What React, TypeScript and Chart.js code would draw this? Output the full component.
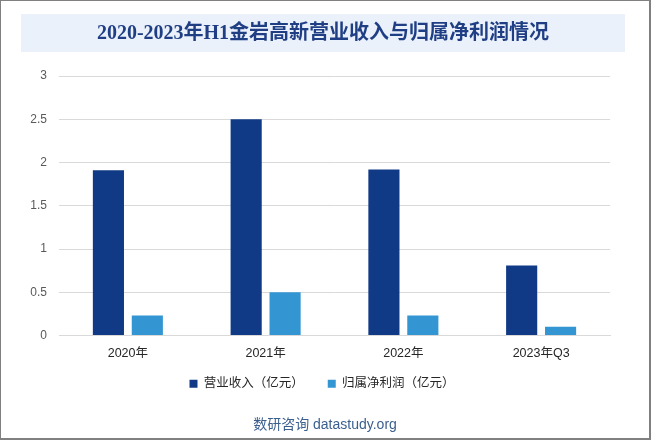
import React, { useEffect, useRef } from "react";
import { Chart, registerables } from "chart.js";

Chart.register(...registerables);

const categories = ["2020年", "2021年", "2022年", "2023年Q3"];
const revenue = [1.91, 2.5, 1.92, 0.81];
const netProfit = [0.23, 0.5, 0.23, 0.1];
const seriesNames = ["营业收入（亿元）", "归属净利润（亿元）"];
const yTicks = [0, 0.5, 1, 1.5, 2, 2.5, 3];
const titleText = "2020-2023年H1金岩高新营业收入与归属净利润情况";
const footerText = "数研咨询 datastudy.org";

const decorPlugin = {
  id: "decor",
  afterLayout(chart: any) {
    const lg = chart.legend;
    if (lg) {
      lg.top -= 19;
      lg.bottom -= 19;
      lg.left += 17;
      lg.right += 17;
    }
  },
  beforeDraw(chart: any) {
    const ctx = chart.ctx;
    ctx.save();
    ctx.fillStyle = "#ffffff";
    ctx.fillRect(0, 0, chart.width, chart.height);
    ctx.fillStyle = "#EAF1FB";
    ctx.fillRect(21, 14, 604, 38);
    ctx.fillStyle = "#1F3E84";
    ctx.font = 'bold 20px "Liberation Serif", "Noto Sans CJK SC", serif';
    ctx.textAlign = "center";
    ctx.textBaseline = "middle";
    ctx.fillText(titleText, 323, 34);
    ctx.fillStyle = "#3A5F8F";
    ctx.font = '14px "Liberation Sans", "Noto Sans CJK SC", sans-serif';
    ctx.fillText(footerText, 325, 425);
    ctx.restore();
  },
  afterDraw(chart: any) {
    const ctx = chart.ctx;
    ctx.save();
    ctx.strokeStyle = "#808080";
    ctx.lineWidth = 1;
    ctx.strokeRect(0.5, 0.5, chart.width - 1, chart.height - 1);
    ctx.lineWidth = 2;
    ctx.beginPath();
    ctx.moveTo(chart.width - 1, 0);
    ctx.lineTo(chart.width - 1, chart.height - 1);
    ctx.lineTo(0, chart.height - 1);
    ctx.stroke();
    ctx.restore();
  },
};

export default function App() {
  const ref = useRef<HTMLCanvasElement | null>(null);
  useEffect(() => {
    document.body.style.margin = "0";
    const chart = new Chart(ref.current as HTMLCanvasElement, {
      type: "bar",
      data: {
        labels: categories,
        datasets: [
          {
            label: seriesNames[0],
            data: revenue,
            backgroundColor: "#103A85",
            categoryPercentage: 0.565,
            barPercentage: 0.8,
          },
          {
            label: seriesNames[1],
            data: netProfit,
            backgroundColor: "#3396D3",
            categoryPercentage: 0.565,
            barPercentage: 0.8,
          },
        ],
      },
      options: {
        animation: false,
        responsive: false,
        maintainAspectRatio: false,
        layout: { padding: { left: 0, right: 41, top: 76, bottom: 21 } },
        plugins: {
          title: { display: false },
          tooltip: { enabled: false },
          legend: {
            position: "bottom",
            labels: {
              boxWidth: 8,
              boxHeight: 8,
              padding: 24,
              color: "#262626",
              font: { size: 12.5, family: '"Liberation Sans", "Noto Sans CJK SC", sans-serif' },
            },
          },
        },
        scales: {
          x: {
            grid: { display: false, drawTicks: false },
            border: { display: true, color: "#D9D9D9", width: 1 },
            ticks: {
              color: "#262626",
              padding: 11,
              font: { size: 12.5, family: '"Liberation Sans", "Noto Sans CJK SC", sans-serif' },
            },
          },
          y: {
            min: 0,
            max: 3,
            afterBuildTicks: (scale: any) => {
              scale.ticks = yTicks.map((v) => ({ value: v }));
            },
            afterFit: (scale: any) => {
              scale.width = 59;
            },
            grid: { color: "#D9D9D9", drawTicks: false, lineWidth: 1 },
            border: { display: false },
            ticks: {
              color: "#595959",
              padding: 12,
              callback: (v: any) => String(Number(v)),
              font: { size: 12, family: '"Liberation Sans", "Noto Sans CJK SC", sans-serif' },
            },
          },
        },
      },
      plugins: [decorPlugin],
    } as any);
    return () => chart.destroy();
  }, []);
  return (
    <div style={{ width: 651, height: 440 }}>
      <canvas ref={ref} width={651} height={440} style={{ width: 651, height: 440, display: "block" }} />
    </div>
  );
}
